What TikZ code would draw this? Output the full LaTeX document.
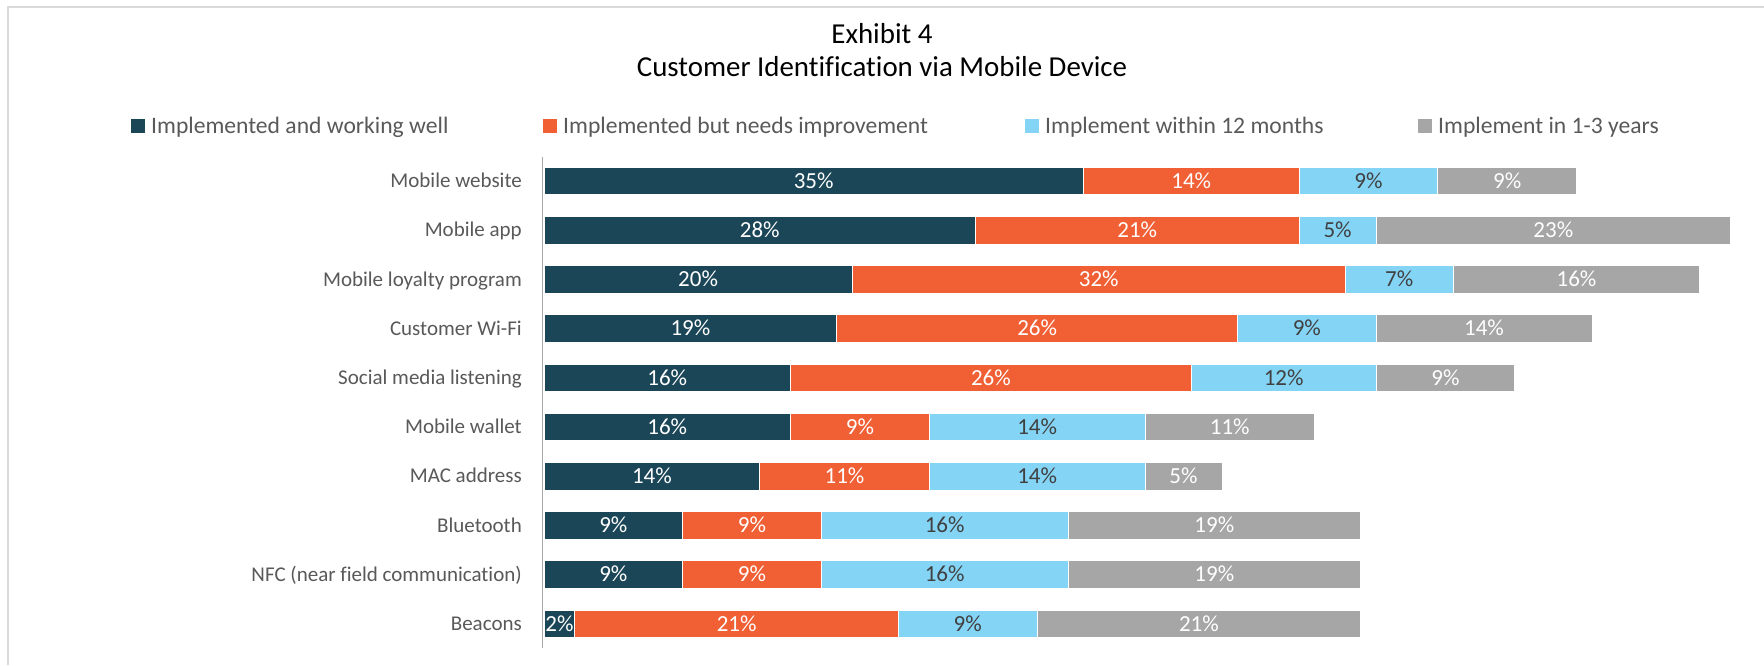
\documentclass[tikz,border=0pt]{standalone}
\usepackage{fontspec}
\setmainfont[Ligatures=NoCommon]{Carlito}
\definecolor{cteal}{RGB}{27,70,87}
\definecolor{corange}{RGB}{241,95,53}
\definecolor{cblue}{RGB}{132,212,246}
\definecolor{cgray}{RGB}{166,166,166}
\definecolor{framecol}{RGB}{217,217,217}
\definecolor{axiscol}{RGB}{166,166,166}
\definecolor{txtgray}{RGB}{89,89,89}
\definecolor{darktxt}{RGB}{64,64,64}
\tikzset{
  seg/.style={draw=white, line width=0.8pt, minimum height=27.7pt, inner sep=0pt, outer sep=0pt, anchor=west,
    font=\fontsize{23}{27}\selectfont, text height=14.6pt, text depth=0pt},
  rowlab/.style={anchor=east, inner sep=0pt, text=txtgray, font=\fontsize{21}{25}\selectfont, text height=13.5pt, text depth=0pt},
  legsq/.style={minimum width=13.5pt, minimum height=13.5pt, inner sep=0pt, outer sep=0pt},
  legtxt/.style={anchor=west, inner sep=0pt, text=txtgray, font=\fontsize{23.6}{28}\selectfont, text height=15.2pt, text depth=0pt},
  ttl/.style={inner sep=0pt, text=black, font=\fontsize{28.9}{34}\selectfont}
}
\begin{document}
\begin{tikzpicture}[x=1pt,y=-1pt]
\useasboundingbox (0,0) rectangle (1764,665);
\fill[white] (0,0) rectangle (1764,665);
\draw[framecol, line width=2pt] (8,665) -- (8,7) -- (1764,7);
% title
\node[ttl] (t1) at (882,34) {Exhibit 4};
\node[ttl] (t2) at (882,67) {Customer Identification via Mobile Device};
% legend
\node[legsq, fill=cteal] (k1) at (138,126) {};
\node[legtxt] (k1t) at (151,126) {Implemented and working well};
\node[legsq, fill=corange] (k2) at (550,126) {};
\node[legtxt] (k2t) at (563,126) {Implemented but needs improvement};
\node[legsq, fill=cblue] (k3) at (1032,126) {};
\node[legtxt] (k3t) at (1045,126) {Implement within 12 months};
\node[legsq, fill=cgray] (k4) at (1425,126) {};
\node[legtxt] (k4t) at (1438,126) {Implement in 1-3 years};
% bars
\foreach \i/\lab/\va/\vb/\vc/\vd in {
  0/Mobile website/35/14/9/9,
  1/Mobile app/28/21/5/23,
  2/Mobile loyalty program/20/32/7/16,
  3/Customer Wi-Fi/19/26/9/14,
  4/Social media listening/16/26/12/9,
  5/Mobile wallet/16/9/14/11,
  6/MAC address/14/11/14/5,
  7/Bluetooth/9/9/16/19,
  8/NFC (near field communication)/9/9/16/19,
  9/Beacons/2/21/9/21}{
  \pgfmathsetmacro\yy{181+49.2*\i}
  \node[rowlab] (lab\i) at (522,\yy) {\lab};
  \node[seg, fill=cteal, text=white, minimum width=15.41pt*\va] (sa\i) at (544,\yy) {\va\%};
  \node[seg, fill=corange, text=white, minimum width=15.41pt*\vb] (sb\i) at (sa\i.east) {\vb\%};
  \node[seg, fill=cblue, text=darktxt, minimum width=15.41pt*\vc] (sc\i) at (sb\i.east) {\vc\%};
  \node[seg, fill=cgray, text=white, minimum width=15.41pt*\vd] (sd\i) at (sc\i.east) {\vd\%};
}
% axis
\coordinate (axtop) at (542.5,157);
\coordinate (axbot) at (542.5,648);
\draw[axiscol, line width=1.8pt] (axtop) -- (axbot);
\end{tikzpicture}
\end{document}
